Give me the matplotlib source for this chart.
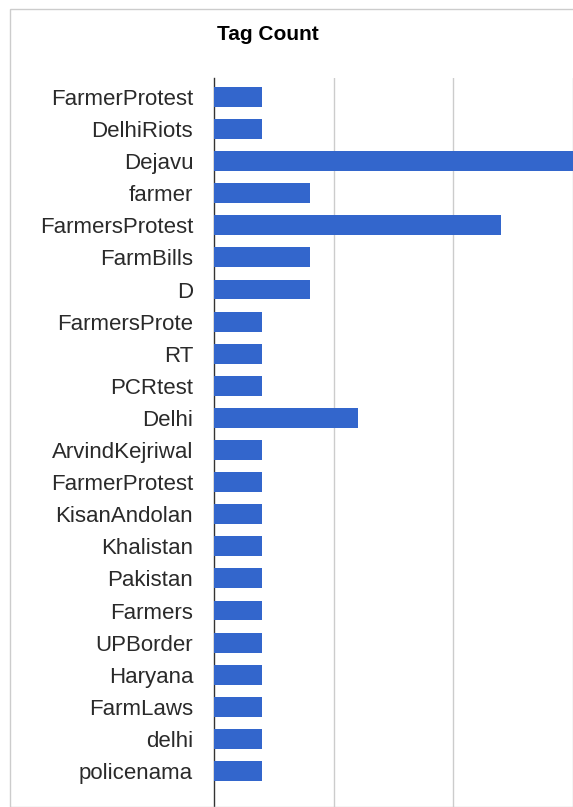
import numpy as np
import matplotlib.pyplot as plt
from matplotlib.patches import Rectangle

# tags and counts (top to bottom)
tags = ['FarmerProtest', 'DelhiRiots', 'Dejavu', 'farmer', 'FarmersProtest',
        'FarmBills', 'D', 'FarmersProte', 'RT', 'PCRtest', 'Delhi',
        'ArvindKejriwal', 'FarmerProtest', 'KisanAndolan', 'Khalistan',
        'Pakistan', 'Farmers', 'UPBorder', 'Haryana', 'FarmLaws', 'delhi',
        'policenama']
counts = [1, 1, 9, 2, 6, 2, 2, 1, 1, 1, 3, 1, 1, 1, 1, 1, 1, 1, 1, 1, 1, 1]
grid_ticks = [2.5, 5, 7.5]

plt.rcParams['font.family'] = ['Liberation Sans', 'DejaVu Sans']

W, H = 573, 807
fig = plt.figure(figsize=(W / 100, H / 100), dpi=100)
fig.patch.set_facecolor('white')

# light frame around the chart (cropped on right/bottom)
fig.patches.append(Rectangle((10 / W, 0), 1.0, 1 - 9 / H, transform=fig.transFigure,
                             fill=False, edgecolor='#cccccc', linewidth=1.0))

ax = fig.add_axes([214 / W, 0, 1 - 214 / W, 1 - 78 / H])
pos = np.arange(len(tags))
ax.barh(pos, counts, height=0.62, color='#3366cc', zorder=3)

ax.set_ylim(len(tags) - 1 + 1.12, -0.59)
ax.set_xlim(0, (W - 214) / 48.6)
ax.set_xticks(grid_ticks)
ax.set_xticklabels([])
ax.tick_params(axis='x', length=0)
ax.grid(axis='x', color='#cccccc', linewidth=1.0, zorder=0)

ax.set_yticks(pos)
ax.set_yticklabels(tags, fontsize=16, color='#2a2a2a')
ax.tick_params(axis='y', length=0, pad=15)

for s in ['top', 'right', 'bottom']:
    ax.spines[s].set_visible(False)
ax.spines['left'].set_color('#333333')
ax.spines['left'].set_linewidth(1.0)
ax.set_facecolor('white')

fig.text(268 / W, 1 - 35 / H, 'Tag Count', fontsize=15, fontweight='bold',
         color='#000000', ha='center', va='center')

fig.savefig('out.png', dpi=100)
